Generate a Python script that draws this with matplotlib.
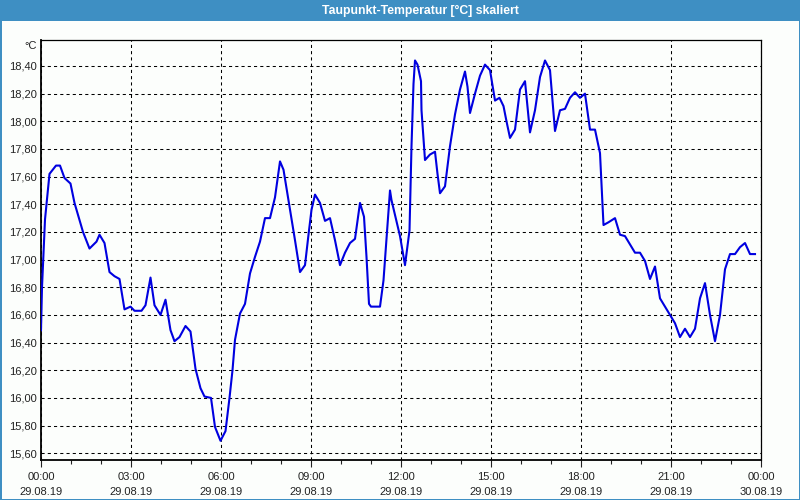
import matplotlib
matplotlib.use("Agg")
import matplotlib.pyplot as plt
from matplotlib.patches import Rectangle
from matplotlib.ticker import MultipleLocator, FixedLocator

# --- data (minutes after 29.08.19 00:00, dew point in °C) ---
minutes = [0, 2, 8, 17, 30, 38, 47, 59, 67, 84, 97, 111, 117, 127, 137, 147, 157, 167,
           179, 187, 201, 209, 219, 227, 239, 249, 259, 267, 277, 289, 299, 309, 319,
           327, 340, 348, 359, 369, 377, 383, 388, 398, 408, 418, 428, 438, 448, 458,
           468, 478, 485, 495, 508, 518, 528, 535, 541, 548, 558, 568, 578, 588, 598,
           608, 618, 628, 638, 646, 651, 656, 660, 670, 678, 685, 698, 701, 718, 728,
           737, 741, 745, 748, 753, 760, 761, 768, 778, 788, 793, 798, 808, 818, 828,
           838, 848, 853, 858, 868, 878, 888, 898, 908, 917, 925, 931, 938, 948, 958,
           968, 978, 988, 998, 1008, 1018, 1028, 1038, 1048, 1058, 1068, 1078, 1088,
           1098, 1108, 1118, 1125, 1135, 1148, 1158, 1168, 1178, 1188, 1198, 1208,
           1218, 1228, 1238, 1248, 1258, 1268, 1278, 1288, 1298, 1308, 1318, 1328,
           1338, 1348, 1358, 1368, 1378, 1388, 1398, 1408, 1418, 1428]
values = [16.49, 16.80, 17.29, 17.62, 17.68, 17.68, 17.59, 17.55, 17.41, 17.20, 17.08,
          17.13, 17.18, 17.12, 16.91, 16.88, 16.86, 16.64, 16.66, 16.63, 16.63, 16.67,
          16.87, 16.67, 16.60, 16.71, 16.49, 16.41, 16.44, 16.52, 16.48, 16.21, 16.07,
          16.01, 16.00, 15.79, 15.69, 15.76, 16.00, 16.20, 16.42, 16.61, 16.68, 16.90,
          17.02, 17.13, 17.30, 17.30, 17.45, 17.71, 17.65, 17.43, 17.14, 16.91, 16.96,
          17.18, 17.36, 17.47, 17.41, 17.28, 17.30, 17.14, 16.96, 17.05, 17.12, 17.15,
          17.41, 17.31, 17.02, 16.68, 16.66, 16.66, 16.66, 16.85, 17.50, 17.43, 17.17,
          16.96, 17.21, 17.82, 18.27, 18.44, 18.41, 18.29, 18.08, 17.72, 17.76, 17.78,
          17.62, 17.48, 17.53, 17.82, 18.05, 18.23, 18.36, 18.25, 18.06, 18.20, 18.33,
          18.41, 18.37, 18.15, 18.17, 18.11, 18.00, 17.88, 17.94, 18.23, 18.29, 17.92,
          18.08, 18.32, 18.44, 18.37, 17.93, 18.08, 18.09, 18.17, 18.21, 18.17, 18.20,
          17.94, 17.94, 17.77, 17.25, 17.27, 17.30, 17.18, 17.17, 17.11, 17.05, 17.05,
          16.99, 16.86, 16.95, 16.72, 16.66, 16.60, 16.54, 16.44, 16.50, 16.44, 16.50,
          16.72, 16.83, 16.60, 16.41, 16.60, 16.93, 17.04, 17.04, 17.09, 17.12, 17.04,
          17.04]

x_tick_minutes = [0, 180, 360, 540, 720, 900, 1080, 1260, 1440]
x_tick_labels = ["00:00\n29.08.19", "03:00\n29.08.19", "06:00\n29.08.19",
                 "09:00\n29.08.19", "12:00\n29.08.19", "15:00\n29.08.19",
                 "18:00\n29.08.19", "21:00\n29.08.19", "00:00\n30.08.19"]
y_ticks = [15.6, 15.8, 16.0, 16.2, 16.4, 16.6, 16.8, 17.0, 17.2, 17.4, 17.6, 17.8,
           18.0, 18.2, 18.4]
title = "Taupunkt-Temperatur [°C] skaliert"
unit = "°C"

plt.rcParams['font.family'] = ['Liberation Sans', 'DejaVu Sans']

W, H = 800, 500
fig = plt.figure(figsize=(W / 100, H / 100), dpi=100)
bg = '#fcfefc'
fig.patch.set_facecolor(bg)
frame_blue = '#3e8fc3'

# title bar
fig.patches.append(Rectangle((0, 1 - 21 / H), 1, 21 / H, transform=fig.transFigure,
                             facecolor=frame_blue, edgecolor='none', zorder=0))
fig.text(420 / W, 1 - 10.5 / H, title, ha='center', va='center', color='white',
         fontsize=8.8, fontweight='bold')
# window border
for rect in [(0, 0, 1.5 / W, 1), (1 - 1.5 / W, 0, 1.5 / W, 1), (0, 0, 1, 1.5 / H)]:
    fig.patches.append(Rectangle(rect[:2], rect[2], rect[3], transform=fig.transFigure,
                                 facecolor=frame_blue, edgecolor='none', zorder=0))

ax = fig.add_axes([41 / W, 1 - 460 / H, 720 / W, 420 / H])
ax.set_facecolor(bg)
ax.plot(minutes, values, color='#0000e0', lw=1.5, zorder=3)

ax.set_xlim(0, 1440)
ax.set_ylim(15.551, 18.588)

ax.xaxis.set_major_locator(FixedLocator(x_tick_minutes))
ax.set_xticklabels(x_tick_labels, fontsize=8, linespacing=1.55)
ax.xaxis.set_minor_locator(MultipleLocator(60))
ax.set_yticks(y_ticks)
ax.set_yticklabels([f"{v:.2f}".replace('.', ',') for v in y_ticks], fontsize=8)

ax.tick_params(axis='x', which='major', length=5, width=0.8, pad=4, colors='#222222')
ax.tick_params(axis='x', which='minor', length=3, width=0.8, colors='#222222')
ax.tick_params(axis='y', which='major', length=0, pad=3, colors='#222222')

ax.grid(True, which='major', color='black', lw=0.75, linestyle=(0, (3, 3)))

for s in ['top', 'right']:
    ax.spines[s].set_linewidth(0.9)
for s in ['left', 'bottom']:
    ax.spines[s].set_linewidth(1.3)

fig.text(37 / W, 1 - 46 / H, unit, ha='right', va='center', fontsize=8, color='#222222')

fig.savefig('out.png', dpi=100, facecolor=fig.get_facecolor())
